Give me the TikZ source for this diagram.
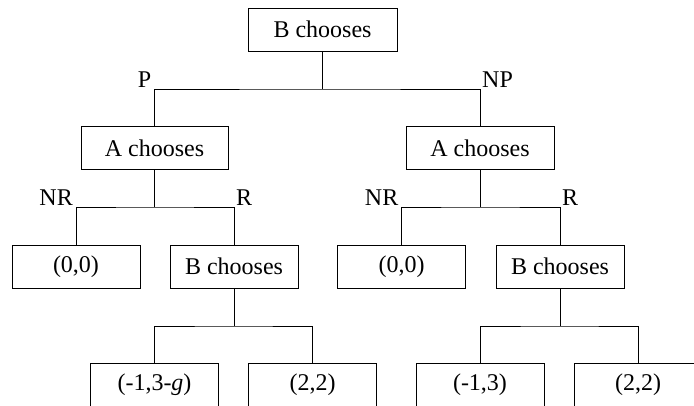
\documentclass[tikz,border=0pt]{standalone}
\usepackage{fontspec}
\setmainfont{Liberation Serif}
\begin{document}
\begin{tikzpicture}[x=1pt,y=-1pt,
  box/.style={draw,line width=1pt,minimum width=128pt,minimum height=43pt,inner sep=0pt,font=\fontsize{24}{28}\selectfont},
  wide/.style={box,minimum width=149pt},
  lab/.style={inner sep=0pt,font=\fontsize{24}{28}\selectfont},
  lableft/.style={lab,anchor=base east,xshift=-3pt,yshift=2pt},
  labright/.style={lab,anchor=base west,xshift=2pt,yshift=2pt},
  conn/.style={line width=1pt}]
\clip (0,0) rectangle (694,405);
\fill[white] (0,0) rectangle (694,405);
% nodes
\node[wide] (top) at (322.5,29.5) {B chooses};
\node[box,minimum width=147pt] (a1) at (154.5,148) {A chooses};
\node[box,minimum width=148pt] (a2) at (480,148) {A chooses};
\node[box] (l00) at (76,266.5) {(0,0)};
\node[box] (lb) at (234,266.5) {B chooses};
\node[box] (r00) at (401.5,266.5) {(0,0)};
\node[box] (rb) at (560,266.5) {B chooses};
\node[box] (lg) at (154.5,384.5) {(-1,3-\textit{g})};
\node[box] (l22) at (312.5,384.5) {(2,2)};
\node[box] (r13) at (480,384.5) {(-1,3)};
\node[box] (r22) at (638,384.5) {(2,2)};
% junctions
\coordinate (j0) at (322.5,89);
\coordinate (j1) at (154.5,207);
\coordinate (j2) at (480,207);
\coordinate (j3) at (234,326);
\coordinate (j4) at (560,326);
% connectors
\draw[conn] (top.south) -- (j0);
\draw[conn] (a1.north) |- (j0) -| (a2.north);
\draw[conn] (a1.south) -- (j1);
\draw[conn] (l00.north) |- (j1) -| (lb.north);
\draw[conn] (a2.south) -- (j2);
\draw[conn] (r00.north) |- (j2) -| (rb.north);
\draw[conn] (lb.south) -- (j3);
\draw[conn] (lg.north) |- (j3) -| (l22.north);
\draw[conn] (rb.south) -- (j4);
\draw[conn] (r13.north) |- (j4) -| (r22.north);
% labels
\node[lableft] (lP) at (a1.north |- j0) {P};
\node[labright] (lNP) at (a2.north |- j0) {NP};
\node[lableft] (lNR1) at (l00.north |- j1) {NR};
\node[labright] (lR1) at (lb.north |- j1) {R};
\node[lableft] (lNR2) at (r00.north |- j2) {NR};
\node[labright] (lR2) at (rb.north |- j2) {R};
\end{tikzpicture}
\end{document}
